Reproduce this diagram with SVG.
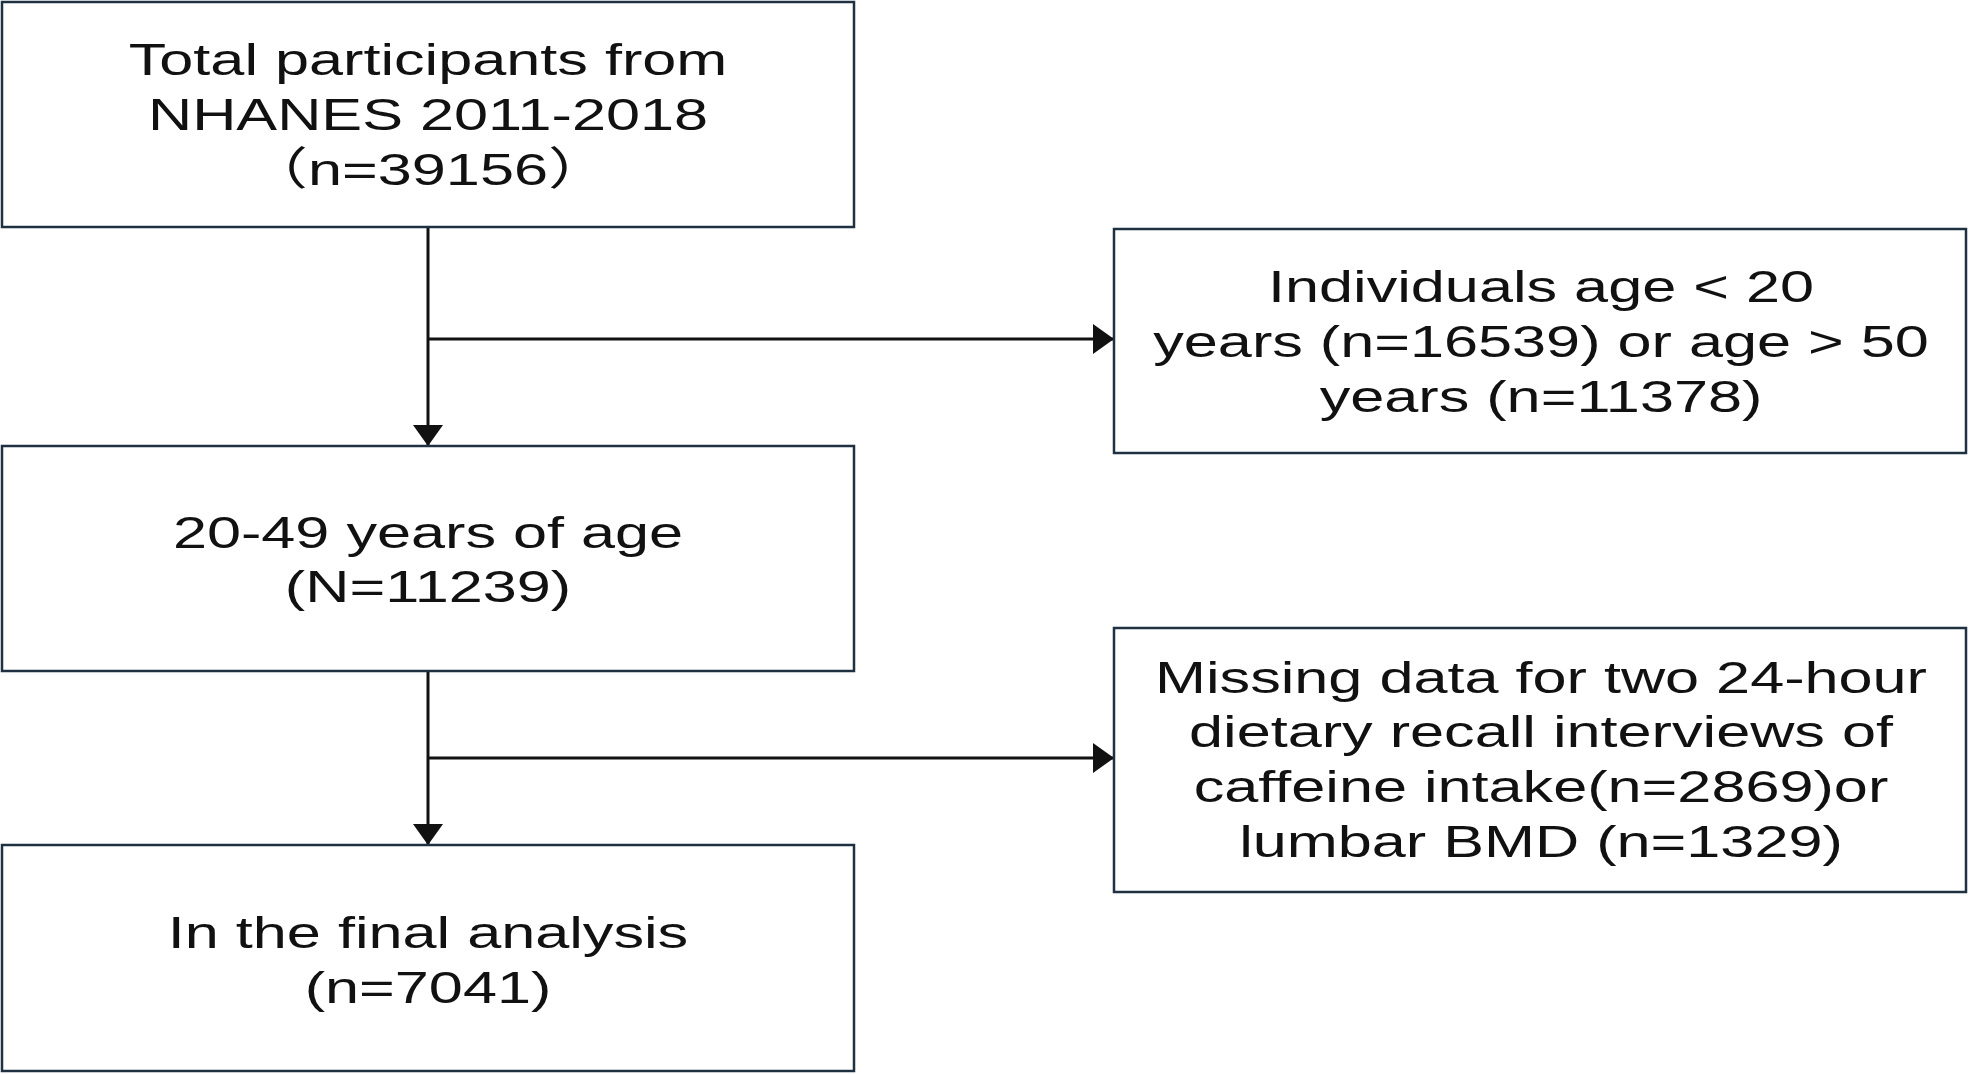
<svg xmlns="http://www.w3.org/2000/svg" width="1969" height="1074" viewBox="0 0 1969 1074">
  <style>
    .box { fill: #ffffff; stroke: #1f3140; stroke-width: 2.5; }
    .lbl { font-family: "Liberation Sans", "Noto Sans CJK SC", Arial, sans-serif; font-size: 45px; fill: #111111; text-anchor: middle; }
    .conn { fill: none; stroke: #111111; stroke-width: 3; }
  </style>
  <defs>
    <marker id="arrow" viewBox="0 0 21 30" refX="21" refY="15" markerWidth="21" markerHeight="30" markerUnits="userSpaceOnUse" orient="auto">
      <path d="M0,0 L21,15 L0,30 z" fill="#111111"/>
    </marker>
  </defs>
  <rect width="1969" height="1074" fill="#ffffff"/>

  <g id="connectors">
    <line class="conn" x1="428" y1="227" x2="428" y2="446" marker-end="url(#arrow)"/>
    <line class="conn" x1="428" y1="339" x2="1114" y2="339" marker-end="url(#arrow)"/>
    <line class="conn" x1="428" y1="671" x2="428" y2="845" marker-end="url(#arrow)"/>
    <line class="conn" x1="428" y1="758" x2="1114" y2="758" marker-end="url(#arrow)"/>
  </g>

  <g id="node-total">
    <rect class="box" x="2" y="2" width="852" height="225"/>
    <text class="lbl" transform="translate(428,75) scale(1.36,1)">Total participants from</text>
    <text class="lbl" transform="translate(428,130) scale(1.36,1)">NHANES 2011-2018</text>
    <text class="lbl" transform="translate(428,185) scale(1.36,1)">（n=39156）</text>
  </g>

  <g id="node-excluded-age">
    <rect class="box" x="1114" y="229" width="852" height="224"/>
    <text class="lbl" transform="translate(1541,302) scale(1.36,1)">Individuals age &lt; 20</text>
    <text class="lbl" transform="translate(1541,357) scale(1.36,1)">years (n=16539) or age &gt; 50</text>
    <text class="lbl" transform="translate(1541,412) scale(1.36,1)">years (n=11378)</text>
  </g>

  <g id="node-age-range">
    <rect class="box" x="2" y="446" width="852" height="225"/>
    <text class="lbl" transform="translate(428,548) scale(1.36,1)">20-49 years of age</text>
    <text class="lbl" transform="translate(428,602) scale(1.36,1)">(N=11239)</text>
  </g>

  <g id="node-excluded-missing">
    <rect class="box" x="1114" y="628" width="852" height="264"/>
    <text class="lbl" transform="translate(1541,693) scale(1.36,1)">Missing data for two 24-hour</text>
    <text class="lbl" transform="translate(1541,747) scale(1.36,1)">dietary recall interviews of</text>
    <text class="lbl" transform="translate(1541,802) scale(1.36,1)">caffeine intake(n=2869)or</text>
    <text class="lbl" transform="translate(1541,857) scale(1.36,1)">lumbar BMD (n=1329)</text>
  </g>

  <g id="node-final">
    <rect class="box" x="2" y="845" width="852" height="226"/>
    <text class="lbl" transform="translate(428,948) scale(1.36,1)">In the final analysis</text>
    <text class="lbl" transform="translate(428,1003) scale(1.36,1)">(n=7041)</text>
  </g>
</svg>
